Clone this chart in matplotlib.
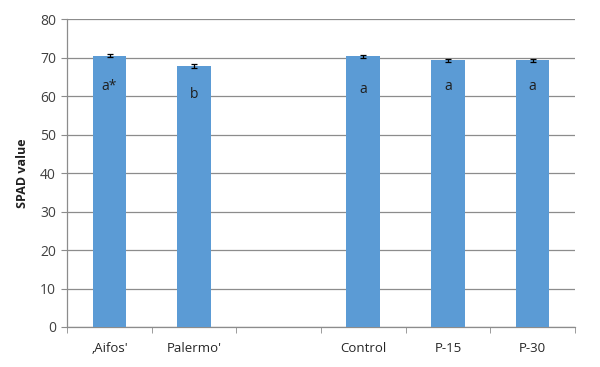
import matplotlib.pyplot as plt
import numpy as np

plt.rcParams['font.family'] = ['Open Sans', 'DejaVu Sans']

categories = ["\u201aAifos'", "Palermo'", "", "Control", "P-15", "P-30"]
spad = [70.5, 67.8, np.nan, 70.3, 69.3, 69.3]
spad_err = [0.45, 0.45, np.nan, 0.45, 0.45, 0.45]
letters = ['a*', 'b', '', 'a', 'a', 'a']
letter_y = [62.5, 60.5, np.nan, 61.7, 62.6, 62.6]

fig = plt.figure(figsize=(6, 3.67), dpi=100)
ax = fig.add_axes([0.112, 0.109, 0.846, 0.839])

x = np.arange(len(categories))
ax.bar(x, spad, width=0.4, color='#5B9BD5', zorder=3,
       yerr=spad_err, capsize=2.5, error_kw=dict(ecolor='black', elinewidth=0.9, capthick=0.9))
for xi, t, ly in zip(x, letters, letter_y):
    if t:
        ax.text(xi, ly, t, ha='center', va='center', fontsize=10, color='#1f1f1f', zorder=4)

ax.set_xlim(-0.5, len(categories) - 0.5)
ax.set_ylim(0, 80)
ax.set_yticks(np.arange(0, 81, 10))
ax.yaxis.grid(True, color='#8c8c8c', linewidth=0.9, zorder=0)
ax.set_axisbelow(True)

ax.set_xticks(x)
ax.set_xticklabels(categories)
ax.set_xticks(np.arange(-0.5, len(categories), 1), minor=True)
ax.tick_params(axis='x', which='major', length=0, pad=11, labelsize=9.5, labelcolor='#262626')
ax.tick_params(axis='x', which='minor', length=4, color='#8c8c8c', direction='out')
ax.tick_params(axis='y', length=4, color='#8c8c8c', labelsize=10, labelcolor='#404040', pad=4)

for s in ['top', 'right']:
    ax.spines[s].set_visible(False)
for s in ['left', 'bottom']:
    ax.spines[s].set_color('#8c8c8c')
    ax.spines[s].set_linewidth(0.9)

ax.set_ylabel('SPAD value', fontsize=9, fontweight='bold', color='#1f1f1f', labelpad=8)

fig.savefig('out.png', dpi=100)
